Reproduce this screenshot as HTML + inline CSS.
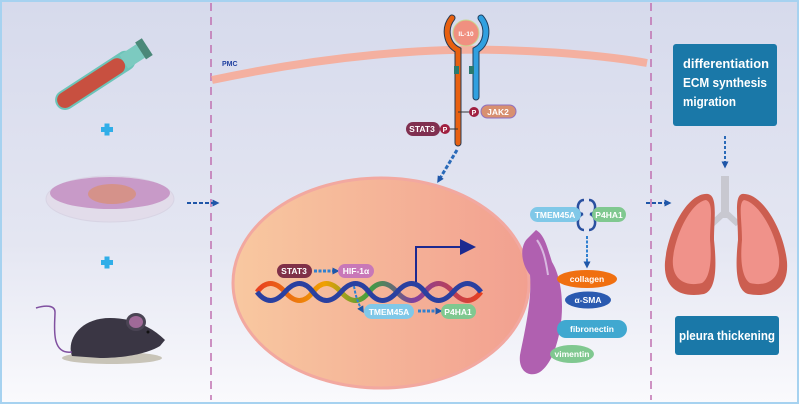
<!DOCTYPE html>
<html><head><meta charset="utf-8"><style>
html,body{margin:0;padding:0;width:799px;height:404px;overflow:hidden}
svg{display:block}
text{font-family:"Liberation Sans",sans-serif;font-weight:bold}
</style></head><body>
<svg width="799" height="404" viewBox="0 0 799 404" xmlns="http://www.w3.org/2000/svg">
<defs>
<linearGradient id="bg" x1="0" y1="0" x2="0" y2="1"><stop offset="0" stop-color="#d6daec"/><stop offset="0.6" stop-color="#e4e6f2"/><stop offset="1" stop-color="#fafafd"/></linearGradient>
<linearGradient id="nuc" x1="0" y1="0" x2="1" y2="0"><stop offset="0" stop-color="#f8c8a0"/><stop offset="1" stop-color="#f2a090"/></linearGradient>
<linearGradient id="dna" x1="0" y1="0" x2="1" y2="0"><stop offset="0" stop-color="#e84020"/><stop offset="0.3" stop-color="#f0a000"/><stop offset="0.5" stop-color="#40a040"/><stop offset="0.7" stop-color="#8040a0"/><stop offset="1" stop-color="#e84020"/></linearGradient>
<marker id="ah" markerUnits="userSpaceOnUse" markerWidth="7" markerHeight="7" refX="3.5" refY="3.5" orient="auto"><path d="M0,0 L7,3.5 L0,7 z" fill="#1f56a8"/></marker>
</defs>
<rect x="0" y="0" width="799" height="404" fill="url(#bg)"/>
<rect x="1" y="1" width="797" height="402" fill="none" stroke="#a6d2f0" stroke-width="2"/>
<line x1="211" y1="3" x2="211" y2="400" stroke="#c070b0" stroke-width="1.5" stroke-dasharray="8,6"/>
<line x1="651" y1="3" x2="651" y2="400" stroke="#c070b0" stroke-width="1.5" stroke-dasharray="8,6"/>

<!-- test tube -->
<g transform="translate(102,76) rotate(-33)">
<rect x="-54" y="-10" width="92" height="20" rx="10" fill="#6cc4b8"/>
<rect x="-52" y="-8" width="78" height="16" rx="8" fill="#c85040"/>
<rect x="26" y="-8" width="22" height="16" fill="#7ccac0"/>
<rect x="46" y="-10" width="8" height="20" fill="#4a8878"/>
</g>
<!-- plus -->
<g fill="#30aee8"><rect x="101" y="127" width="12" height="5"/><rect x="104.5" y="123.5" width="5" height="12"/>
<rect x="101" y="260" width="12" height="5"/><rect x="104.5" y="256.5" width="5" height="12"/></g>
<!-- dish -->
<ellipse cx="110" cy="199" rx="64" ry="23" fill="#e2dcea" stroke="#d8d4e4"/>
<ellipse cx="110" cy="193" rx="60" ry="16" fill="#c89ac8"/>
<ellipse cx="112" cy="194" rx="24" ry="10" fill="#d8907a" opacity="0.8"/>
<line x1="187" y1="203" x2="216" y2="203" stroke="#1f56a8" stroke-width="2" stroke-dasharray="4,2" marker-end="url(#ah)"/>
<!-- mouse -->
<ellipse cx="112" cy="358" rx="50" ry="6" fill="#c8c4b8"/>
<path d="M72,356 C66,340 80,318 110,318 C130,318 150,325 165,340 L160,346 C150,352 130,358 100,358 Z" fill="#3a3644"/>
<ellipse cx="136" cy="322" rx="10" ry="9" fill="#4a4454"/><ellipse cx="136" cy="322" rx="7" ry="6" fill="#a06a98"/>
<path d="M72,352 C50,355 55,325 55,312 C55,305 45,305 36,308" fill="none" stroke="#8050a0" stroke-width="1.5"/>
<circle cx="148" cy="332" r="1.5" fill="#111"/>

<!-- membrane -->
<path d="M212,80 C330,55 430,48 500,50 C570,52 620,58 647,63" fill="none" stroke="#f4b0a0" stroke-width="8"/>
<text x="222" y="66" font-size="7" fill="#2040a0">PMC</text>
<!-- receptor -->
<path d="M452,18 C444,28 446,44 458,50 L458,143" fill="none" stroke="#2a3a50" stroke-width="7" stroke-linecap="round"/>
<path d="M452,18 C444,28 446,44 458,50 L458,143" fill="none" stroke="#e86010" stroke-width="5" stroke-linecap="round"/>
<path d="M481,18 C489,28 487,44 476,50 L476,97" fill="none" stroke="#204060" stroke-width="7" stroke-linecap="round"/>
<path d="M481,18 C489,28 487,44 476,50 L476,97" fill="none" stroke="#30a0e0" stroke-width="5" stroke-linecap="round"/>
<rect x="454" y="66" width="5" height="8" fill="#2a7a70"/><rect x="469" y="66" width="5" height="8" fill="#2a7a70"/>
<circle cx="466" cy="33" r="13" fill="#f09080" stroke="#c8d890" stroke-width="1"/>
<text x="466" y="36" font-size="6.5" fill="#fff" text-anchor="middle">IL-10</text>
<line x1="458" y1="112" x2="473" y2="112" stroke="#333"/><line x1="445" y1="129" x2="458" y2="129" stroke="#333"/>
<rect x="481" y="105" width="35" height="13" rx="6.5" fill="#d89070" stroke="#9070c0"/>
<text x="498" y="115" font-size="8.5" fill="#fff" text-anchor="middle">JAK2</text>
<rect x="406" y="122" width="34" height="14" rx="7" fill="#803050"/>
<text x="422" y="132" font-size="8.5" fill="#fff" text-anchor="middle">STAT3</text>
<circle cx="474" cy="112" r="5" fill="#a02040"/><text x="474" y="115" font-size="7" fill="#fff" text-anchor="middle">P</text>
<circle cx="445" cy="129" r="5" fill="#a02040"/><text x="445" y="132" font-size="7" fill="#fff" text-anchor="middle">P</text>
<line x1="457" y1="150" x2="439" y2="180" stroke="#2a6ab8" stroke-width="3" stroke-dasharray="4,2" marker-end="url(#ah)"/>

<!-- nucleus -->
<ellipse cx="381" cy="283" rx="148" ry="105" fill="url(#nuc)" stroke="#f2a8a0" stroke-width="3"/>
<g fill="none" stroke-width="5">
<path d="M257,292 Q270,275 285,292 T313,292 T341,292 T369,292 T397,292 T425,292 T453,292 T481,292" stroke="url(#dna)"/>
<path d="M257,292 Q270,309 285,292 T313,292 T341,292 T369,292 T397,292 T425,292 T453,292 T481,292" stroke="#2a40a0"/>
</g>
<polyline points="416,282 416,247 464,247" fill="none" stroke="#1c2a90" stroke-width="2"/>
<path d="M460,239 L476,247 L460,255 Z" fill="#1c2a90"/>
<rect x="277" y="264" width="35" height="14" rx="7" fill="#803048"/><text x="294" y="274" font-size="8.5" fill="#fff" text-anchor="middle">STAT3</text>
<line x1="314" y1="271" x2="336" y2="271" stroke="#3080d0" stroke-width="3" stroke-dasharray="3,1.5" marker-end="url(#ah)"/>
<rect x="338" y="264" width="36" height="14" rx="7" fill="#c878b8"/><text x="356" y="274" font-size="8.5" fill="#fff" text-anchor="middle">HIF-1α</text>
<path d="M354,286 Q356,300 362,310" fill="none" stroke="#3080d0" stroke-width="2" stroke-dasharray="3,1.5" marker-end="url(#ah)"/>
<rect x="364" y="304" width="50" height="15" rx="7.5" fill="#80c8e8"/><text x="389" y="315" font-size="8.5" fill="#fff" text-anchor="middle">TMEM45A</text>
<line x1="418" y1="311" x2="439" y2="311" stroke="#3080d0" stroke-width="3" stroke-dasharray="3,1.5" marker-end="url(#ah)"/>
<rect x="441" y="304" width="35" height="15" rx="7.5" fill="#80c890"/><text x="458" y="315" font-size="8.5" fill="#fff" text-anchor="middle">P4HA1</text>

<!-- fibroblast -->
<path d="M536,230 C545,235 548,250 552,262 C560,275 565,300 560,330 C556,350 550,365 540,372 C530,378 518,372 520,355 C525,330 532,300 530,275 C520,262 520,245 528,238 Z" fill="#b060b0"/>
<path d="M537,240 C544,250 546,262 548,275" fill="none" stroke="#d8b8e0" stroke-width="2"/>
<path d="M584,200 C576,200 576,214 583,214 C576,216 576,230 584,230" fill="none" stroke="#2a50a0" stroke-width="2.5"/>
<path d="M589,200 C597,200 597,214 590,214 C597,216 597,230 589,230" fill="none" stroke="#2a50a0" stroke-width="2.5"/>
<rect x="530" y="207" width="51" height="15" rx="7.5" fill="#80c8e8"/><text x="555" y="218" font-size="8.5" fill="#fff" text-anchor="middle">TMEM45A</text>
<rect x="592" y="207" width="34" height="15" rx="7.5" fill="#80c890"/><text x="609" y="218" font-size="8.5" fill="#fff" text-anchor="middle">P4HA1</text>
<line x1="587" y1="236" x2="587" y2="265" stroke="#3080d0" stroke-width="2" stroke-dasharray="3,1.5" marker-end="url(#ah)"/>
<ellipse cx="587" cy="279" rx="30" ry="9" fill="#f07010"/><text x="587" y="282" font-size="8.5" fill="#fff" text-anchor="middle">collagen</text>
<ellipse cx="588" cy="300" rx="23" ry="8.5" fill="#2a5ab0"/><text x="588" y="303" font-size="8.5" fill="#fff" text-anchor="middle">α-SMA</text>
<rect x="557" y="320" width="70" height="18" rx="9" fill="#40a8d0"/><text x="592" y="332" font-size="8.5" fill="#fff" text-anchor="middle">fibronectin</text>
<ellipse cx="572" cy="354" rx="22" ry="9" fill="#80c890"/><text x="572" y="357" font-size="8.5" fill="#fff" text-anchor="middle">vimentin</text>
<line x1="646" y1="203" x2="668" y2="203" stroke="#1f56a8" stroke-width="2" stroke-dasharray="4,2" marker-end="url(#ah)"/>

<!-- right panel -->
<rect x="673" y="44" width="104" height="82" rx="3" fill="#1a78a8"/>
<text x="683" y="68" font-size="12.5" fill="#fff" textLength="86" lengthAdjust="spacingAndGlyphs">differentiation</text>
<text x="683" y="87" font-size="12.5" fill="#fff" textLength="84" lengthAdjust="spacingAndGlyphs">ECM synthesis</text>
<text x="683" y="106" font-size="12.5" fill="#fff" textLength="53" lengthAdjust="spacingAndGlyphs">migration</text>
<line x1="725" y1="136" x2="725" y2="165" stroke="#2a6ab8" stroke-width="2" stroke-dasharray="3,2" marker-end="url(#ah)"/>
<rect x="721" y="176" width="8" height="42" fill="#c8c8d0"/>
<path d="M725,212 L712,224 M725,212 L738,224" stroke="#c8c8d0" stroke-width="6"/>
<path d="M708,194 C688,192 668,230 665,262 C663,290 682,298 704,294 C716,290 717,268 714,240 C714,218 718,196 708,194 Z" fill="#cc5e50"/>
<path d="M706,200 C692,202 676,232 673,258 C671,280 686,287 702,283 C710,278 712,260 710,240 C710,220 714,203 706,200 Z" fill="#f0928a"/>
<path d="M742,194 C762,192 784,230 787,262 C789,290 770,298 748,294 C736,290 735,268 738,240 C738,218 734,196 742,194 Z" fill="#cc5e50"/>
<path d="M744,200 C758,202 776,232 779,258 C781,280 766,287 750,283 C742,278 740,260 742,240 C742,220 738,203 744,200 Z" fill="#f0928a"/>
<rect x="675" y="316" width="104" height="39" rx="3" fill="#1a78a8"/>
<text x="727" y="340" font-size="12.5" fill="#fff" text-anchor="middle" textLength="96" lengthAdjust="spacingAndGlyphs">pleura thickening</text>
</svg>
</body></html>
